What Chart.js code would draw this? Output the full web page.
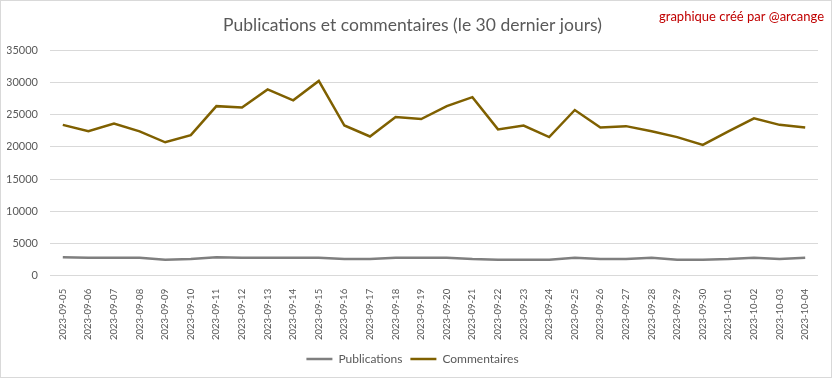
<!DOCTYPE html>
<html>
<head>
<meta charset="utf-8">
<script src="https://cdn.jsdelivr.net/npm/chart.js"></script>
<style>
  html, body { margin: 0; padding: 0; background: #fff; }
  #wrap { width: 832px; height: 378px; box-sizing: border-box; border: 1px solid #d9d9d9; position: relative; }
</style>
</head>
<body>
<div id="wrap"><canvas id="chart"></canvas></div>
<script>
const dates = [
  '2023-09-05', '2023-09-06', '2023-09-07', '2023-09-08', '2023-09-09', '2023-09-10',
  '2023-09-11', '2023-09-12', '2023-09-13', '2023-09-14', '2023-09-15', '2023-09-16',
  '2023-09-17', '2023-09-18', '2023-09-19', '2023-09-20', '2023-09-21', '2023-09-22',
  '2023-09-23', '2023-09-24', '2023-09-25', '2023-09-26', '2023-09-27', '2023-09-28',
  '2023-09-29', '2023-09-30', '2023-10-01', '2023-10-02', '2023-10-03', '2023-10-04'
];
const publications = [
  2900, 2800, 2800, 2800, 2500, 2600, 2900, 2800, 2800, 2800, 2800, 2600,
  2600, 2800, 2800, 2800, 2600, 2500, 2500, 2500, 2800, 2600, 2600, 2800,
  2500, 2500, 2600, 2800, 2600, 2800
];
const commentaires = [
  23400, 22400, 23600, 22400, 20700, 21800, 26300, 26100, 28900, 27200, 30200, 23300,
  21600, 24600, 24300, 26300, 27700, 22700, 23300, 21500, 25700, 23000, 23200, 22400,
  21500, 20300, 22400, 24400, 23400, 23000
];

const FONT = 'Lato, "Open Sans", sans-serif';

// red credit text in the top right corner
const creditPlugin = {
  id: 'credit',
  afterDraw(chart) {
    const c = chart.ctx;
    c.save();
    c.font = '13px ' + FONT;
    c.fillStyle = '#C00000';
    c.textAlign = 'right';
    c.textBaseline = 'middle';
    c.fillText('graphique créé par @arcange', 823, 16);
    c.restore();
  }
};

new Chart(document.getElementById('chart'), {
  type: 'line',
  data: {
    labels: dates,
    datasets: [
      {
        label: 'Publications',
        data: publications,
        borderColor: '#7F7F7F',
        backgroundColor: '#7F7F7F',
        borderWidth: 2.5,
        pointRadius: 0,
        tension: 0
      },
      {
        label: 'Commentaires',
        data: commentaires,
        borderColor: '#7F6000',
        backgroundColor: '#7F6000',
        borderWidth: 2.5,
        pointRadius: 0,
        tension: 0
      }
    ]
  },
  options: {
    responsive: true,
    maintainAspectRatio: false,
    animation: false,
    layout: { padding: { left: 6, right: 13, top: 6, bottom: 2 } },
    plugins: {
      title: {
        display: true,
        text: 'Publications et commentaires (le 30 dernier jours)',
        color: '#595959',
        font: { family: FONT, size: 17.5, weight: 'normal' },
        padding: { top: 8, bottom: 14 }
      },
      legend: {
        position: 'bottom',
        labels: {
          usePointStyle: true,
          pointStyle: 'line',
          pointStyleWidth: 26,
          color: '#595959',
          font: { family: FONT, size: 12 },
          padding: 8
        }
      },
      tooltip: { enabled: false }
    },
    scales: {
      x: {
        offset: true,
        grid: { display: false },
        border: { display: false },
        // rotated labels ask for extra room on the left, drop it
        afterFit: s => { s.paddingLeft = 0; s.paddingRight = 0; },
        ticks: {
          color: '#595959',
          font: { family: FONT, size: 9.5 },
          minRotation: 90,
          maxRotation: 90,
          autoSkip: false,
          padding: 5
        }
      },
      y: {
        min: 0,
        max: 35000,
        grid: { color: '#D9D9D9', drawTicks: false },
        border: { display: false },
        afterFit: s => { s.width = 43; },
        ticks: {
          stepSize: 5000,
          color: '#595959',
          font: { family: FONT, size: 11 },
          padding: 12,
          callback: v => String(v)
        }
      }
    }
  },
  plugins: [creditPlugin]
});
</script>
</body>
</html>
